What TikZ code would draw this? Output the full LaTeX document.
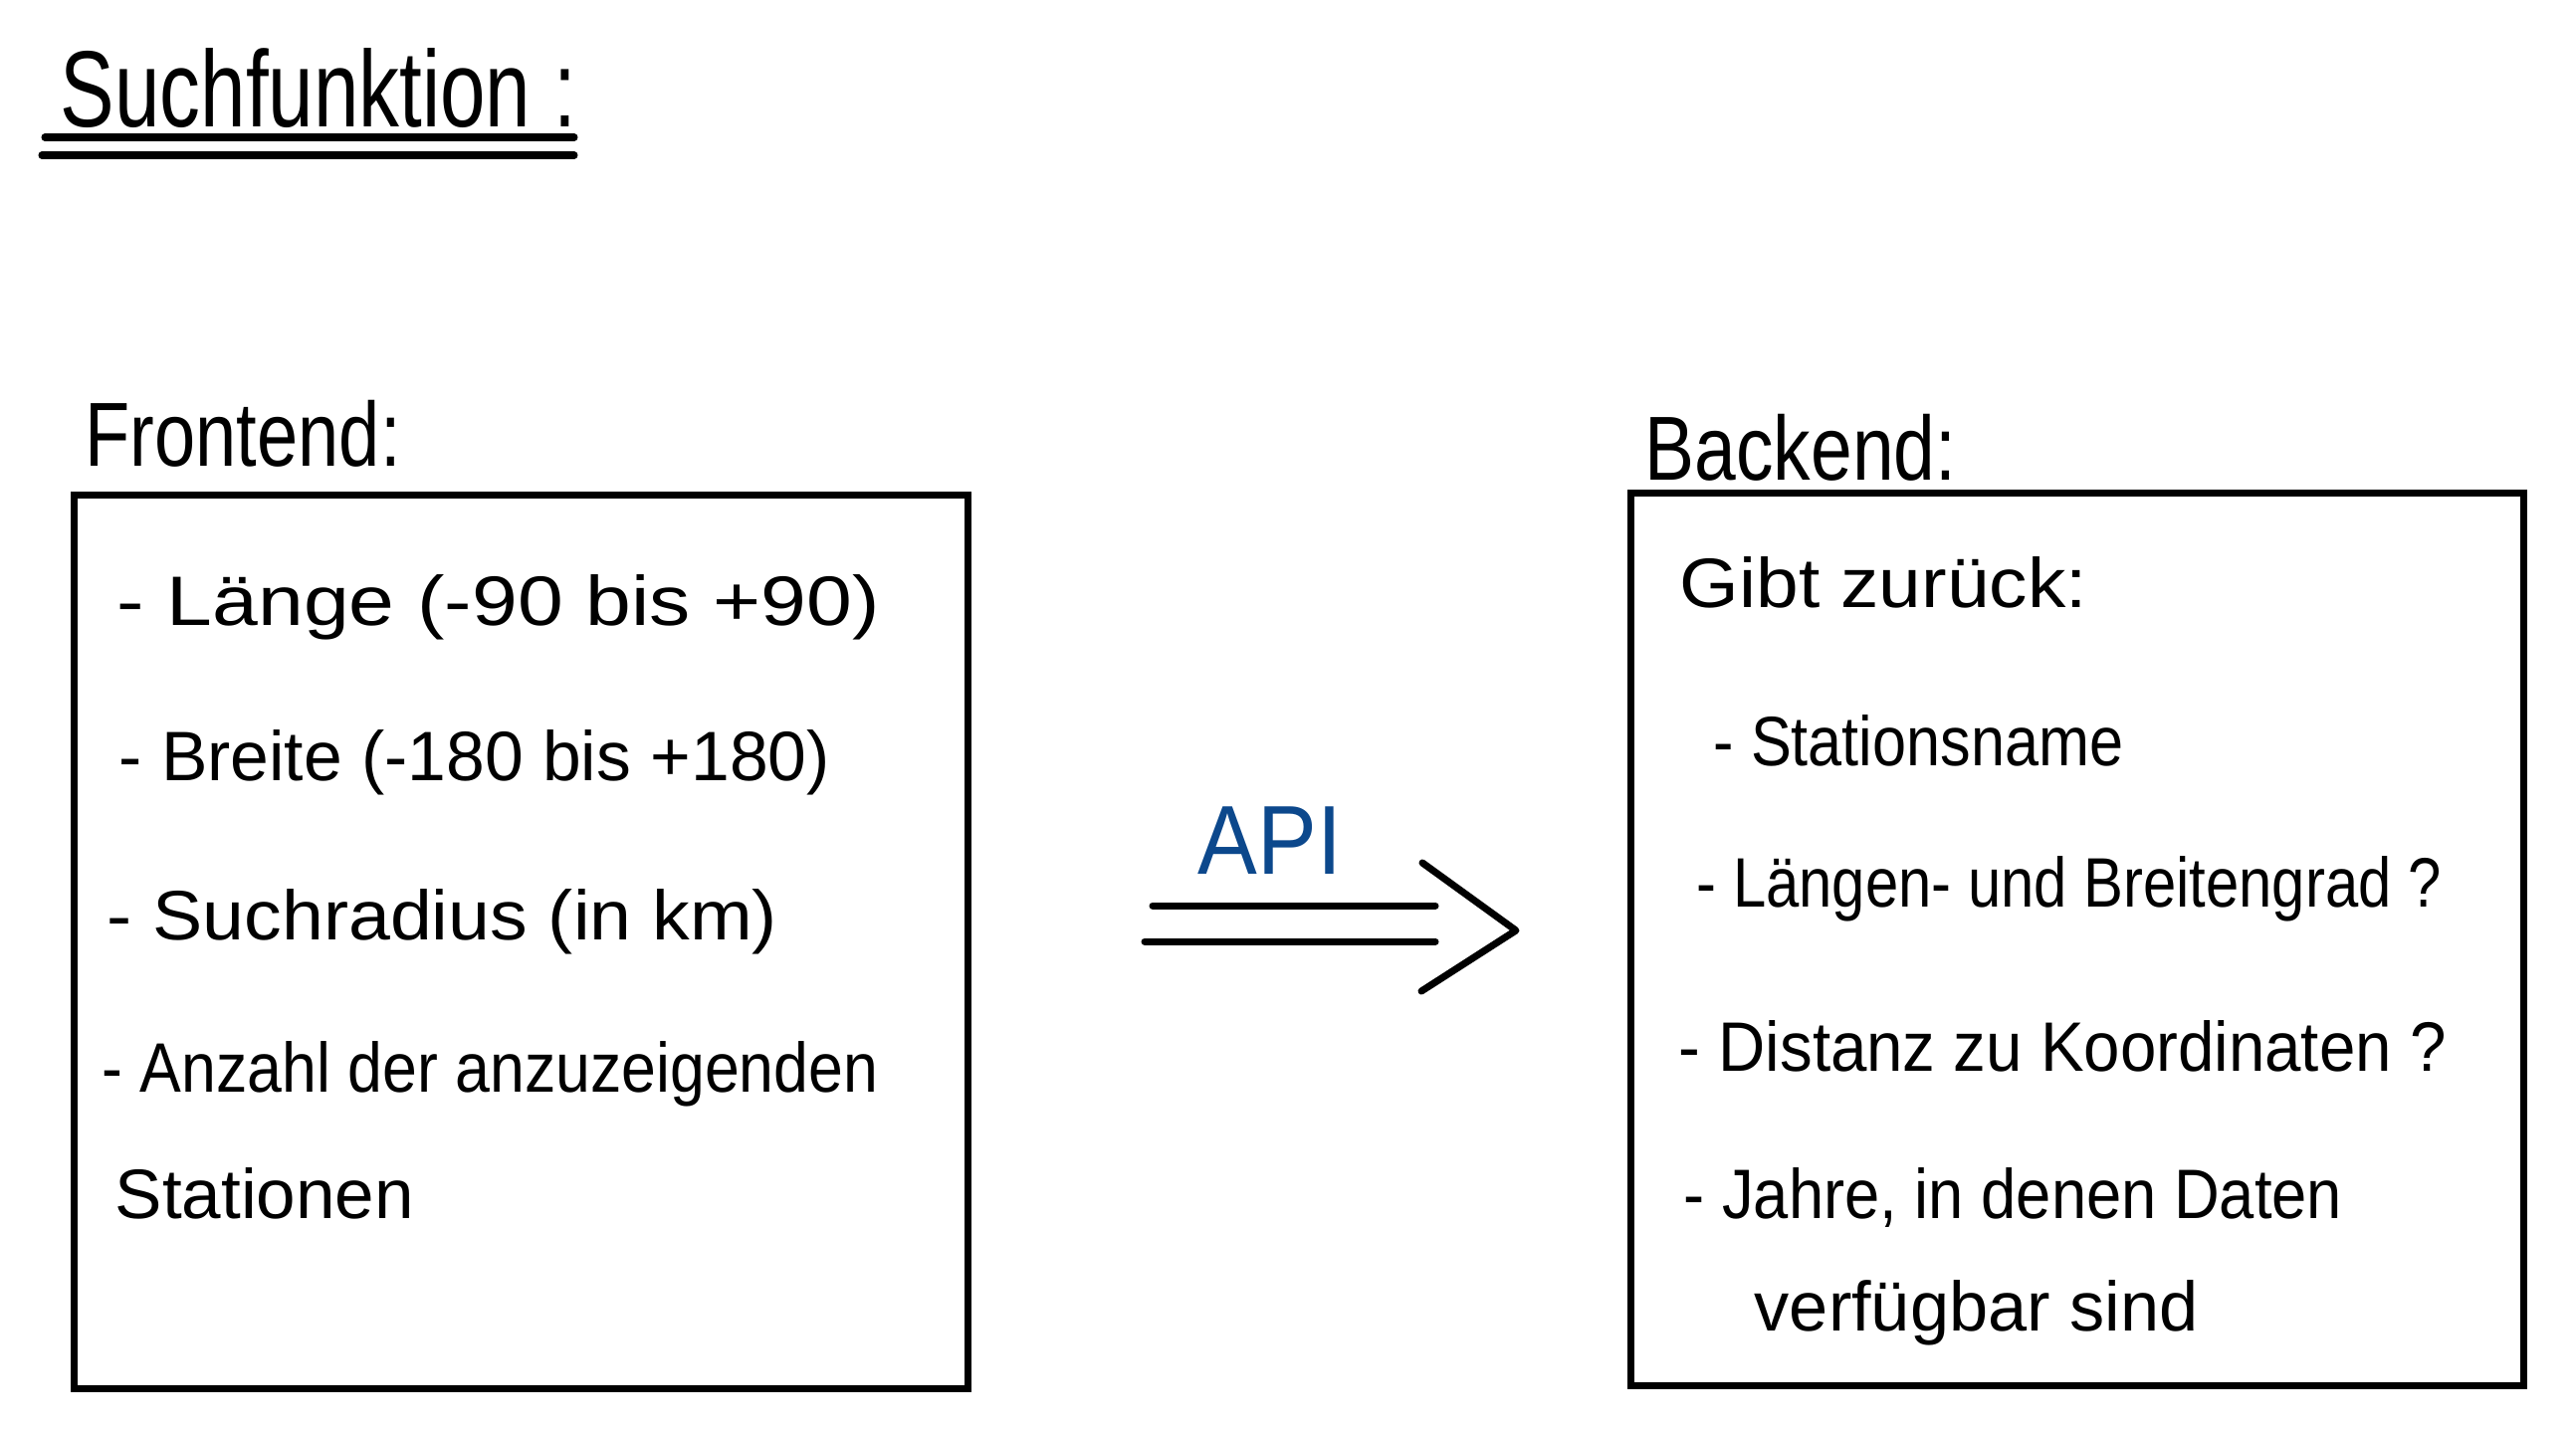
\documentclass[tikz,border=0pt]{standalone}
\usepackage{fontspec}
\usepackage{graphicx}
\setmainfont{Liberation Sans}
\definecolor{apiblue}{RGB}{12,72,140}
\newcommand{\sx}[2]{\scalebox{#1}[1]{#2}}
\tikzset{
  hw/.style={anchor=base west, inner sep=0pt, font=\fontsize{20}{24}\selectfont},
  head/.style={anchor=base west, inner sep=0pt, font=\fontsize{26}{30}\selectfont},
  box/.style={draw, line width=2pt, minimum width=8.97cm, minimum height=8.97cm, inner sep=0pt},
  pen/.style={line width=2pt, line cap=round, line join=round},
}
\begin{document}
\begin{tikzpicture}[x=0.01cm, y=-0.01cm]
\useasboundingbox (0,0) rectangle (2588,1438);
% title
\node[anchor=base west, inner sep=0pt, font=\fontsize{31}{36}\selectfont] (title) at (60,127) {\sx{0.75}{Suchfunktion :}};
\coordinate (u1s) at (45,138); \coordinate (u1e) at (577,138);
\coordinate (u2s) at (42,156); \coordinate (u2e) at (577,156);
\draw[pen] (u1s) -- (u1e);
\draw[pen] (u2s) -- (u2e);
% frontend
\node[head] (felabel) at (85,468) {\sx{0.81}{Frontend:}};
\node[box] (fe) at (523.5,946.5) {};
\node[hw] (f1) at (117,628) {\sx{1.17}{- Länge (-90 bis +90)}};
\node[hw] (f2) at (119,784) {\sx{0.99}{- Breite (-180 bis +180)}};
\node[hw] (f3) at (107,944) {\sx{1.07}{- Suchradius (in km)}};
\node[hw] (f4) at (102,1097) {\sx{0.89}{- Anzahl der anzuzeigenden}};
\node[hw] (f5) at (115,1224) {\sx{1.01}{Stationen}};
% backend
\node[head] (belabel) at (1652,482) {\sx{0.82}{Backend:}};
\node[box] (be) at (2087,944) {};
\node[hw] (b0) at (1687,610) {\sx{1.09}{Gibt zurück:}};
\node[hw] (b1) at (1721,769) {\sx{0.87}{- Stationsname}};
\node[hw] (b2) at (1704,911) {\sx{0.85}{- Längen- und Breitengrad ?}};
\node[hw] (b3) at (1686,1076) {\sx{0.93}{- Distanz zu Koordinaten ?}};
\node[hw] (b4) at (1691,1224) {\sx{0.90}{- Jahre, in denen Daten}};
\node[hw] (b5) at (1762,1337) {\sx{1.0}{verfügbar sind}};
% API arrow
\node[anchor=base west, inner sep=0pt, text=apiblue, font=\fontsize{28}{32}\selectfont] (api) at (1203,878) {\sx{0.91}{API}};
\coordinate (l1s) at (1158,910); \coordinate (l1e) at (1442,910);
\coordinate (l2s) at (1150,946); \coordinate (l2e) at (1442,946);
\coordinate (h1) at (1429,867); \coordinate (tip) at (1523,935); \coordinate (h2) at (1428,996);
\draw[pen] (l1s) -- (l1e);
\draw[pen] (l2s) -- (l2e);
\draw[pen] (h1) -- (tip) -- (h2);
\end{tikzpicture}
\end{document}
